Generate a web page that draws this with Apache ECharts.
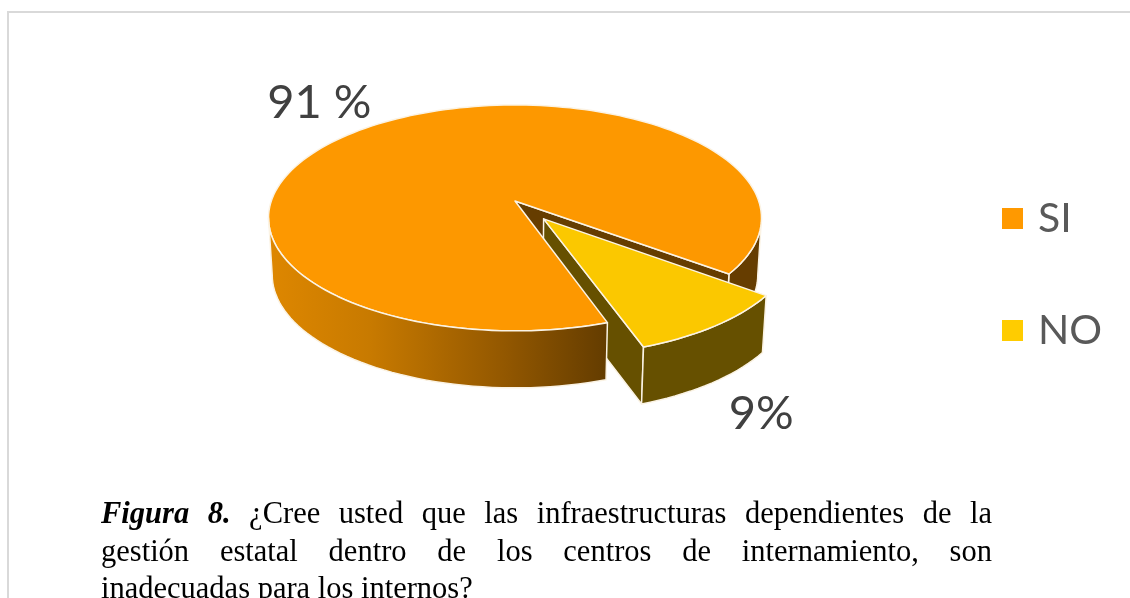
<!DOCTYPE html>
<html>
<head>
<meta charset="utf-8">
<title>Figura 8</title>
<script src="https://cdn.jsdelivr.net/npm/echarts@6/dist/echarts.min.js"></script>
<style>
  html, body { margin: 0; padding: 0; background: #fff; overflow: hidden; }
  #chart { position: absolute; left: 0; top: 0; width: 1130px; height: 598px; }
  #caption {
    position: absolute; left: 101px; top: 495px; width: 891px;
    font: 30.5px/37.5px "Liberation Serif", serif; color: #000;
  }
  #caption div { white-space: nowrap; }
  #caption .just { white-space: normal; text-align: justify; text-align-last: justify; }
</style>
</head>
<body>
<div id="chart"></div>
<div id="caption">
  <div class="just"><b><i>Figura 8.</i></b> ¿Cree usted que las infraestructuras dependientes de la</div>
  <div class="just">gestión estatal dentro de los centros de internamiento, son</div>
  <div>inadecuadas para los internos?</div>
</div>
<script>
const categories = ['SI', 'NO']
const values = [91, 9]
const pointLabels = ['91 %', '9%']
const colors = ['#FD9800', '#FBC800']
const legendColors = ['#FF9900', '#FFCC00']

// 透视饼图的投影参数
const cx = 515
const cy = 201
const scaleX = 243.7
const scaleY = 110.4
const tilt = 0.15
const depth = 57
const bottomShrink = 0.985
const explode = 0.195
const edgeColor = '#FBF3E4'

// NO 扇区的中心角固定，其余由数据计算（原图的透视让扇区略宽）
const wedgeStretch = 1.05
const noSpan = values[1] / (values[0] + values[1]) * 360 * wedgeStretch
const noMid = 54
const noStart = noMid - noSpan / 2
const noEnd = noMid + noSpan / 2
const siEnd = noStart + 360
const rightSilhouette = 8.6
const leftSilhouette = 171.4

function project(x, y) {
  const w = 1 - tilt * y
  return [cx + scaleX * x / w, cy + scaleY * y / w]
}

function lower(p) {
  return [cx + (p[0] - cx) * bottomShrink, p[1] + depth]
}

function rim(a, b, ox, oy) {
  const pts = []
  const steps = Math.max(2, Math.ceil(Math.abs(b - a) / 2))
  for (let i = 0; i <= steps; i++) {
    const t = (a + (b - a) * i / steps) * Math.PI / 180
    pts.push(project(Math.cos(t) + ox, Math.sin(t) + oy))
  }
  return pts
}

function poly(points, fill, z2) {
  return {
    type: 'polygon',
    z2: z2,
    shape: { points: points },
    style: { fill: fill, stroke: edgeColor, lineWidth: 1.5, lineJoin: 'round' }
  }
}

function wall(points, fill, z2) {
  return poly(points.concat(points.map(lower).reverse()), fill, z2)
}

function label(text, pos, z2) {
  return {
    type: 'text',
    z2: z2,
    style: {
      text: text, x: pos[0], y: pos[1],
      fill: '#404040', font: '47px Lato, sans-serif',
      align: 'center', verticalAlign: 'middle'
    }
  }
}

function renderSi() {
  const apex = project(0, 0)
  const frontGradient = new echarts.graphic.LinearGradient(0, 0, 1, 0, [
    { offset: 0, color: '#DE8700' },
    { offset: 0.3, color: '#C87A00' },
    { offset: 0.7, color: '#925700' },
    { offset: 1, color: '#633C00' }
  ])
  const midAngle = (noEnd + siEnd) / 2 * Math.PI / 180
  const labelAnchor = project(Math.cos(midAngle), Math.sin(midAngle))
  return {
    type: 'group',
    children: [
      wall(rim(rightSilhouette, noStart, 0, 0), '#663D00', 1),
      wall([apex].concat(rim(noStart, noStart, 0, 0).slice(0, 1)), '#663D00', 2),
      poly([apex].concat(rim(noEnd, siEnd, 0, 0)), colors[0], 10),
      wall(rim(noEnd, leftSilhouette, 0, 0), frontGradient, 11),
      label(pointLabels[0], [labelAnchor[0] - 68, labelAnchor[1] - 19], 12)
    ]
  }
}

function renderNo() {
  const midAngle = noMid * Math.PI / 180
  const ox = explode * Math.cos(midAngle)
  const oy = explode * Math.sin(midAngle)
  const apex = project(ox, oy)
  const arc = rim(noStart, noEnd, ox, oy)
  const labelAnchor = lower(project(Math.cos(midAngle) + ox, Math.sin(midAngle) + oy))
  return {
    type: 'group',
    children: [
      wall([apex, arc[arc.length - 1]], '#665000', 3),
      wall(arc, '#665000', 4),
      poly([apex].concat(arc), colors[1], 5),
      label(pointLabels[1], [labelAnchor[0] + 49, labelAnchor[1] + 31], 12)
    ]
  }
}

const chart = echarts.init(document.getElementById('chart'))

chart.setOption({
  animation: false,
  legend: {
    orient: 'vertical',
    left: 997,
    top: 193,
    icon: 'rect',
    itemWidth: 21,
    itemHeight: 21,
    itemGap: 71,
    data: [
      { name: categories[0], itemStyle: { color: legendColors[0] } },
      { name: categories[1], itemStyle: { color: legendColors[1] } }
    ],
    textStyle: { fontFamily: 'Lato, sans-serif', fontSize: 41, color: '#595959', padding: [0, 0, 0, 10] }
  },
  graphic: [{
    type: 'polyline',
    silent: true,
    shape: { points: [[8, 598], [8, 12], [1130, 12]] },
    style: { stroke: '#D9D9D9', lineWidth: 2, fill: 'none' }
  }],
  series: [
    {
      type: 'custom',
      name: categories[0],
      coordinateSystem: 'none',
      data: [values[0]],
      itemStyle: { color: colors[0] },
      renderItem: renderSi
    },
    {
      type: 'custom',
      name: categories[1],
      coordinateSystem: 'none',
      data: [values[1]],
      itemStyle: { color: colors[1] },
      renderItem: renderNo
    }
  ]
})
</script>
</body>
</html>
